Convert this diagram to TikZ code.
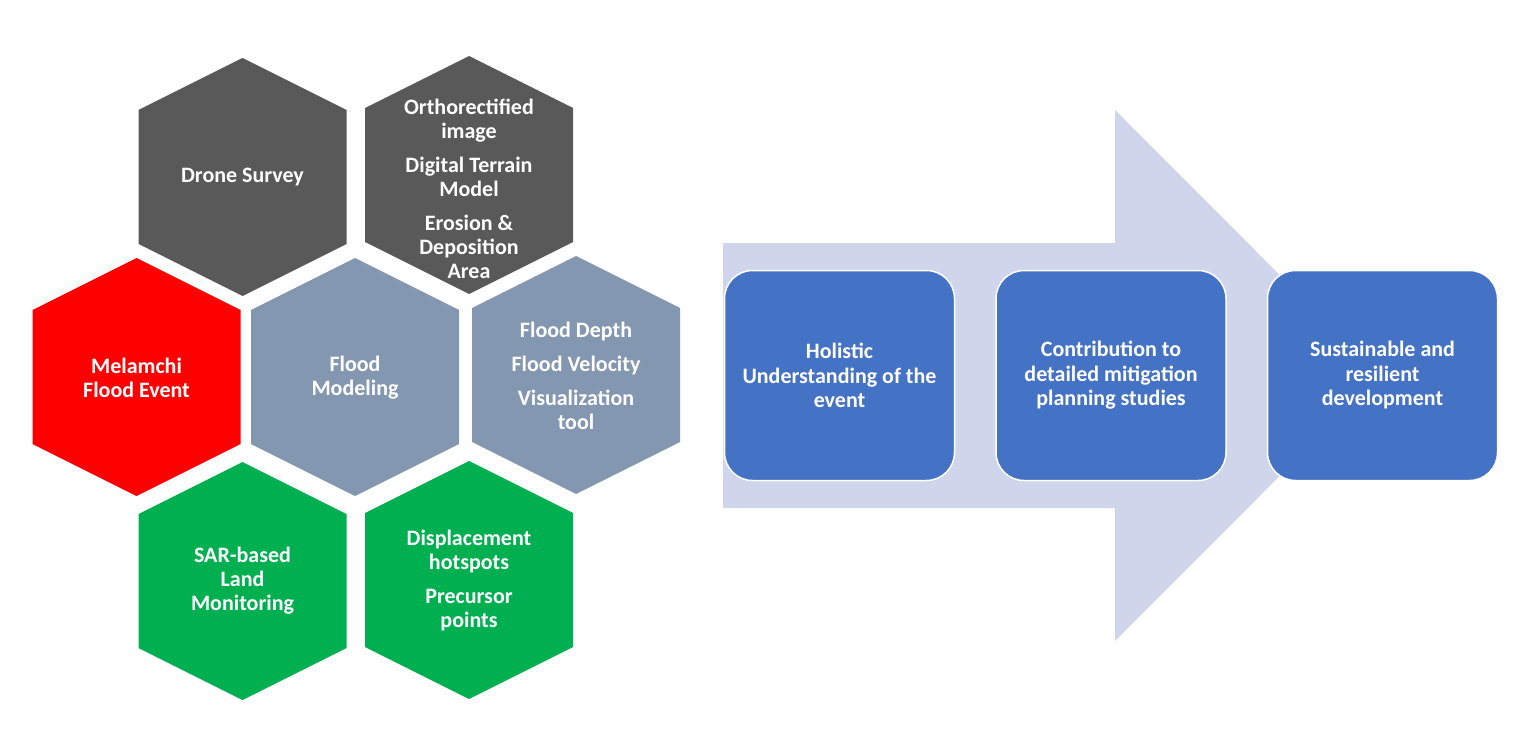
\documentclass[tikz,border=0pt]{standalone}
\usepackage{fontspec}
\setmainfont{Carlito}
\usetikzlibrary{positioning}
\tikzstyle{diagram} = [x = 1pt, y = -1pt]
\definecolor{surveyGray}{HTML}{595959}
\definecolor{eventRed}{HTML}{FF0000}
\definecolor{modelBlue}{HTML}{8497B0}
\definecolor{radarGreen}{HTML}{00B050}
\definecolor{arrowBlue}{HTML}{CFD5EA}
\definecolor{stageBlue}{HTML}{4472C4}
\tikzstyle{hexText} = [text=white, align=center, inner sep=0pt, font=\fontsize{22}{24}\selectfont\bfseries]
\tikzstyle{arrowStyle} = [fill=arrowBlue]
\tikzstyle{stageBox} = [draw=white, line width=1.5pt, fill=stageBlue, rounded corners = 28pt, minimum width=230pt, minimum height=210pt, text=white, align=center, inner sep=0pt, font=\fontsize{22}{24.5}\selectfont\bfseries]
\newcommand{\hexHalfWidth}{104}
\newcommand{\hexCell}[3]{\fill [#3] (#1,#2) ++(0,-119) -- ++(\hexHalfWidth,52) -- ++(0,134) -- ++(-\hexHalfWidth,52) -- ++(-\hexHalfWidth,-52) -- ++(0,-134) -- cycle;}
\newcommand{\paraGap}{\\[10pt]}
\begin{document}
\begin{tikzpicture}[diagram]
    \useasboundingbox (0,0) rectangle (1531,730);
    % honeycomb
    \hexCell{242.5}{177}{surveyGray}
    \hexCell{469}{175}{surveyGray}
    \hexCell{136.5}{377}{eventRed}
    \hexCell{355}{377}{modelBlue}
    \hexCell{576}{375}{modelBlue}
    \hexCell{242.5}{581}{radarGreen}
    \hexCell{469}{580}{radarGreen}
    \node [hexText] (droneText) at (242.5,177) {Drone Survey};
    \node [hexText] (orthoText) at (469,189) {Orthorectified\\image\paraGap Digital Terrain\\Model\paraGap Erosion \&\\Deposition\\Area};
    \node [hexText] (eventText) at (136.5,378) {Melamchi\\Flood Event};
    \node [hexText] (modelText) at (355,378) {Flood\\Modeling};
    \node [hexText] (depthText) at (576,376) {Flood Depth\paraGap Flood Velocity\paraGap Visualization\\tool};
    \node [hexText] (sarText) at (242.5,581) {SAR-based\\Land\\Monitoring};
    \node [hexText] (hotspotText) at (469,581) {Displacement\\hotspots\paraGap Precursor\\points};
    % outcome arrow
    \fill [arrowStyle] (723,243) -- (1115,243) -- (1115,110) -- (1380,375.5) -- (1115,641) -- (1115,508) -- (723,508) -- cycle;
    \node [stageBox] (holistic) at (839.5,375.5) {Holistic\\Understanding of the\\event};
    \node [stageBox, right=40pt of holistic] (mitigation) {Contribution to\\detailed mitigation\\planning studies};
    \node [stageBox, right=40pt of mitigation] (resilient) {Sustainable and\\resilient\\development};
\end{tikzpicture}
\end{document}
